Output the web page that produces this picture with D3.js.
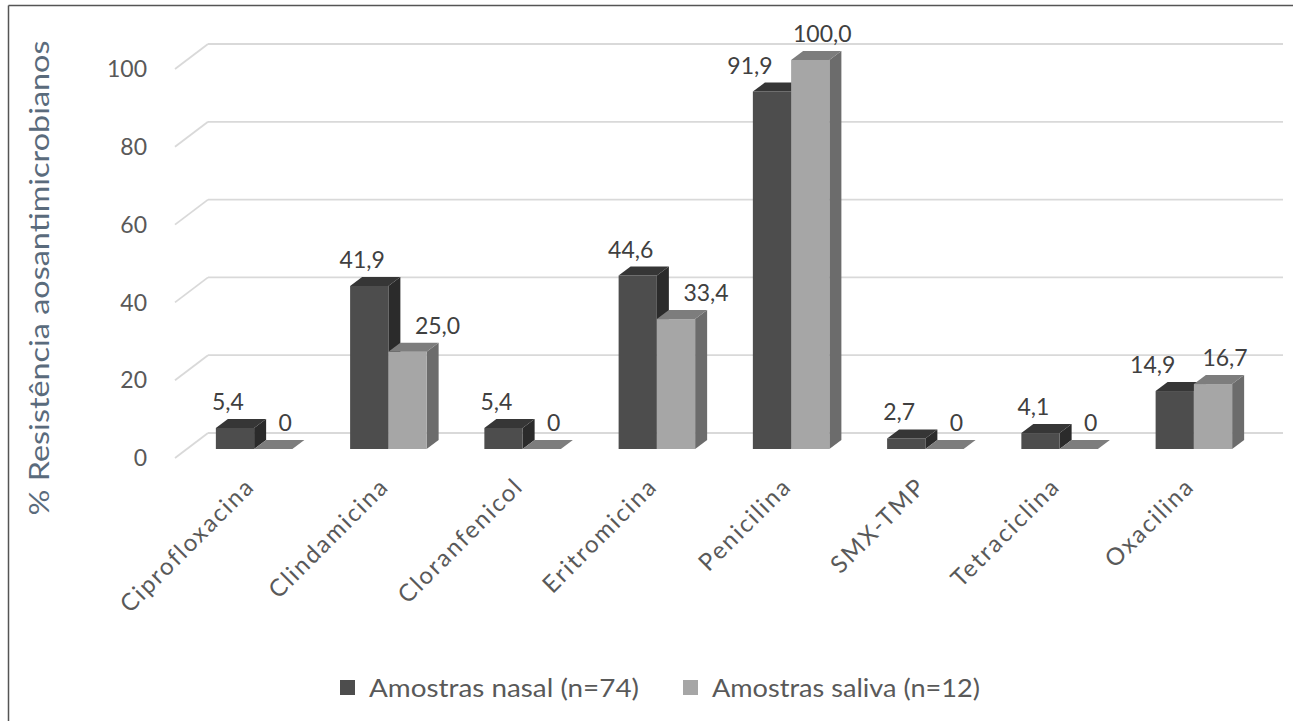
<!DOCTYPE html>
<html>
<head>
<meta charset="utf-8">
<script src="https://cdn.jsdelivr.net/npm/d3@7"></script>
<style>
  html, body { margin: 0; padding: 0; background: #fff; }
  svg { display: block; font-family: Lato, "Open Sans", sans-serif; }
</style>
</head>
<body>
<svg id="chart" width="1293" height="721"></svg>
<script>
const categories = ["Ciprofloxacina", "Clindamicina", "Cloranfenicol", "Eritromicina", "Penicilina", "SMX-TMP", "Tetraciclina", "Oxacilina"];
const seriesNames = ["Amostras nasal (n=74)", "Amostras saliva (n=12)"];
const nasal = [5.4, 41.9, 5.4, 44.6, 91.9, 2.7, 4.1, 14.9];
const saliva = [0, 25.0, 0, 33.4, 100.0, 0, 0, 16.7];
const yTicks = [0, 20, 40, 60, 80, 100];
const yTitle = "% Resistência aosantimicrobianos";

const W = 1293, H = 721;
const svg = d3.select("#chart");

// colours per series: front, top, side
const palette = [
  { front: "#4d4d4d", top: "#363636", side: "#2b2b2b" },
  { front: "#a6a6a6", top: "#7d7d7d", side: "#6c6c6c" }
];

// oblique 3D: bar plane, depth of bars, wall offsets
const barDepth = { dx: 12, dy: 9 };
const wallOff = { dx: 21, dy: 16 };   // bar plane -> back wall
const frontOff = { dx: 12, dy: 9 };   // front plane -> bar plane

const y = d3.scaleLinear().domain([0, 100]).range([449, 60]);
const x0 = d3.scaleBand().domain(categories).range([187, 1261]).paddingInner(0.43).paddingOuter(0.215);
const x1 = d3.scaleBand().domain([0, 1]).range([0, x0.bandwidth()]);

// frame (top and left)
svg.append("line").attr("x1", 8.5).attr("x2", W).attr("y1", 5.5).attr("y2", 5.5).attr("stroke", "#555").attr("stroke-width", 1.5);
svg.append("line").attr("x1", 8.5).attr("x2", 8.5).attr("y1", 5.5).attr("y2", H).attr("stroke", "#555").attr("stroke-width", 1.5);

// gridlines on back wall + side diagonals
const xLeft = x0.range()[0];
const grid = svg.append("g");
yTicks.forEach(t => {
  const by = y(t) - wallOff.dy;
  const bx = xLeft + wallOff.dx;
  grid.append("line").attr("x1", bx).attr("x2", 1283).attr("y1", by).attr("y2", by)
    .attr("stroke", "#d9d9d9").attr("stroke-width", 1.8);
  grid.append("line").attr("x1", xLeft - frontOff.dx).attr("y1", y(t) + frontOff.dy)
    .attr("x2", bx).attr("y2", by)
    .attr("stroke", "#d9d9d9").attr("stroke-width", 1.8);
});

// y tick labels
svg.append("g").selectAll("text").data(yTicks).join("text")
  .attr("x", 147).attr("y", d => y(d) + frontOff.dy)
  .attr("dy", "0.36em")
  .attr("text-anchor", "end")
  .attr("fill", "#595959").attr("font-size", 23)
  .text(d => d);

// y title
svg.append("text")
  .attr("transform", "translate(40,278) rotate(-90)")
  .attr("text-anchor", "middle").attr("dy", "0.35em")
  .attr("fill", "#5a6b7c").attr("font-size", 27)
  .attr("textLength", 475).attr("lengthAdjust", "spacingAndGlyphs")
  .text(yTitle);

// bars
const fmt = v => v === 0 ? "0" : v.toFixed(1).replace(".", ",");
const bars = svg.append("g");
const labels = svg.append("g");
const base = y(0);
const dx = barDepth.dx, dy = barDepth.dy;

categories.forEach((c, i) => {
  const pair = [nasal[i], saliva[i]];
  pair.forEach((v, s) => {
    const xa = x0(c) + x1(s), xb = xa + x1.bandwidth();
    const yt = y(v);
    const col = palette[s];
    const g = bars.append("g");
    // side face
    g.append("path").attr("d", d3.line()([[xb, yt], [xb + dx, yt - dy], [xb + dx, base - dy], [xb, base]]) + "Z")
      .attr("fill", col.side);
    // front face
    if (v > 0) {
      g.append("rect").attr("x", xa).attr("y", yt).attr("width", xb - xa).attr("height", base - yt)
        .attr("fill", col.front);
    }
    // top face
    g.append("path").attr("d", d3.line()([[xa, yt], [xa + dx, yt - dy], [xb + dx, yt - dy], [xb, yt]]) + "Z")
      .attr("fill", col.top);
    // value label: pushed outward when the neighbour bar would block it
    const other = pair[1 - s];
    let shift;
    if (s === 0) shift = other > v ? -22 : -7;
    else shift = (other - v > 8) ? 30 : 12;
    labels.append("text")
      .attr("x", (xa + xb) / 2 + shift).attr("y", yt - dy - 9)
      .attr("text-anchor", "middle")
      .attr("fill", "#404040").attr("font-size", 23)
      .text(fmt(v));
  });
});

// category labels
svg.append("g").selectAll("text").data(categories).join("text")
  .attr("transform", d => `translate(${x0(d) + x0.bandwidth() / 2 - 4},${482}) rotate(-45)`)
  .attr("text-anchor", "end").attr("dy", "0.35em")
  .attr("fill", "#595959").attr("font-size", 24)
  .attr("letter-spacing", 2)
  .text(d => d);

// legend
const legendX = [340, 683];
const legendLen = [270, 268];
const lg = svg.append("g");
seriesNames.forEach((n, s) => {
  lg.append("rect").attr("x", legendX[s]).attr("y", 680).attr("width", 15).attr("height", 15)
    .attr("fill", palette[s].front);
  lg.append("text").attr("x", legendX[s] + 29).attr("y", 688).attr("dy", "0.35em")
    .attr("fill", "#595959").attr("font-size", 25)
    .attr("textLength", legendLen[s]).attr("lengthAdjust", "spacingAndGlyphs")
    .text(n);
});
</script>
</body>
</html>
